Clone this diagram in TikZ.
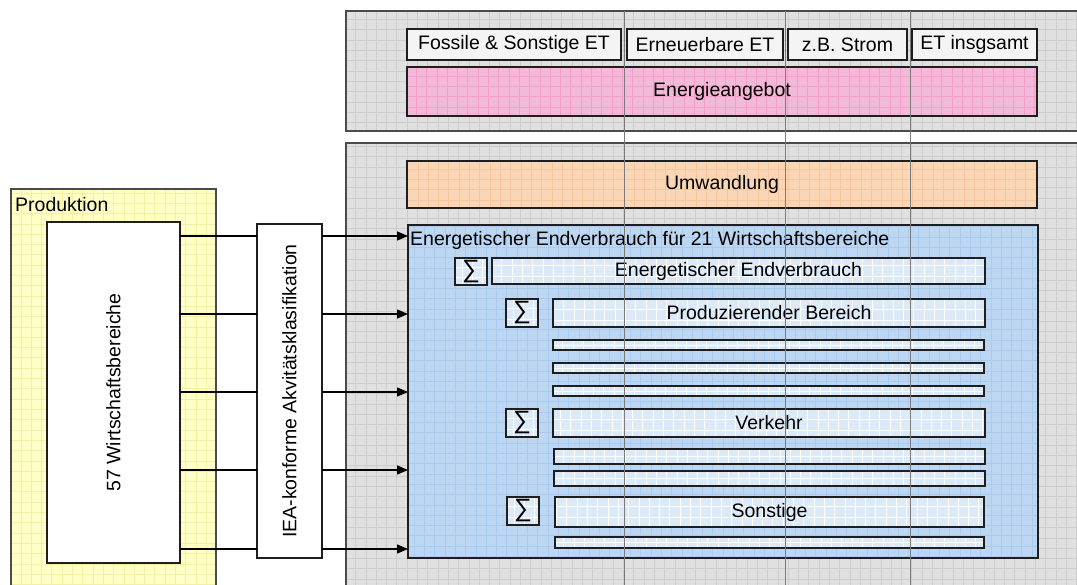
\documentclass[tikz,border=0pt]{standalone}
\usepackage{fontspec}
\setmainfont{Liberation Sans}
\usetikzlibrary{arrows.meta}
\definecolor{panelfill}{HTML}{E0E0E0}
\definecolor{panelgrid}{HTML}{CDCDCD}
\definecolor{pinkfill}{HTML}{F3B9D8}
\definecolor{pinkgrid}{HTML}{F49FC9}
\definecolor{orangefill}{HTML}{F8D6B6}
\definecolor{orangegrid}{HTML}{F6C79E}
\definecolor{bluefill}{HTML}{BDD7F2}
\definecolor{bluegrid}{HTML}{A9CBF0}
\definecolor{barfill}{HTML}{DCEAF8}
\definecolor{yellowfill}{HTML}{FFFFC6}
\definecolor{yellowgrid}{HTML}{F3F0A4}
\definecolor{headfill}{HTML}{F4F4F4}
\definecolor{sepline}{HTML}{7A7A7A}
\definecolor{edge}{HTML}{1E1E1E}
\begin{document}
\begin{tikzpicture}[x=1pt,y=-1pt,
  txt/.style={font=\fontsize{19.5}{23}\selectfont, text=black, inner sep=0pt},
  box/.style={draw=edge, line width=1.3pt, inner sep=0pt, outer sep=0pt, anchor=north west,
    font=\fontsize{19.5}{23}\selectfont},
  gridfill/.style 2 args={fill=#1, path picture={\draw[#2, line width=0.6pt]
    (path picture bounding box.south west) grid[step=10.3pt] (path picture bounding box.north east);}},
  panel/.style={box, draw=edge!80, gridfill={panelfill}{panelgrid}},
  bar/.style={box, gridfill={barfill}{white}},
  sumbox/.style={box, gridfill={barfill}{white}, minimum width=32pt, minimum height=27pt,
    font=\fontsize{25}{28}\selectfont},
  thin/.style={bar, minimum width=431pt, minimum height=11pt},
  conn/.style={draw=black, line width=1.3pt},
  arr/.style={conn, -{Triangle[length=11pt,width=9pt]}},
  sep/.style={draw=sepline, line width=1pt}
]
\useasboundingbox (0,0) rectangle (1077,585);
\clip (0,0) rectangle (1077,585);
\fill[white] (0,0) rectangle (1077,585);

% panels
\node[panel, minimum width=740pt, minimum height=120pt] (toppanel) at (346,11) {};
\node[panel, minimum width=740pt, minimum height=460pt] (botpanel) at (346,143) {};

% header boxes
\node[box, fill=headfill, minimum width=214pt, minimum height=31pt] (h1) at (407,29) {Fossile \& Sonstige ET};
\node[box, fill=headfill, minimum width=156pt, minimum height=31pt] (h2) at (627,29) {Erneuerbare ET};
\node[box, fill=headfill, minimum width=119pt, minimum height=31pt] (h3) at (788,29) {z.B. Strom};
\node[box, fill=headfill, minimum width=125pt, minimum height=31pt] (h4) at (912,29) {ET insgsamt};

\node[box, gridfill={pinkfill}{pinkgrid}, minimum width=630pt, minimum height=49pt] (angebot) at (407,67) {Energieangebot};
\node[box, gridfill={orangefill}{orangegrid}, minimum width=630pt, minimum height=47pt] (umw) at (407,161) {Umwandlung};

% production side
\node[box, draw=edge!80, gridfill={yellowfill}{yellowgrid}, minimum width=205pt, minimum height=420pt] (prod) at (11,189) {};
\node[txt, anchor=north west] (prodlbl) at (15,197) {Produktion};
\node[box, fill=white, minimum width=133pt, minimum height=341pt] (wb) at (47,222) {};
\node[txt, rotate=90] (wblbl) at (wb.center) {57 Wirtschaftsbereiche};
\node[box, fill=white, minimum width=65pt, minimum height=334pt] (iea) at (257,224) {};
\node[txt, rotate=90] (iealbl) at (iea.center) {IEA-konforme Akvitätsklasifikation};

% final energy consumption
\node[box, gridfill={bluefill}{bluegrid}, minimum width=630pt, minimum height=333pt] (blue) at (408,225) {};
\node[txt, anchor=north west] (bluelbl) at (410,231) {Energetischer Endverbrauch für 21 Wirtschaftsbereiche};

\node[sumbox] (s1) at (455,258) {∑};
\node[bar, minimum width=493pt, minimum height=26pt] (b1) at (492,258) {Energetischer Endverbrauch};
\node[sumbox, minimum height=28pt] (s2) at (506,299) {∑};
\node[bar, minimum width=432pt, minimum height=28pt] (b2) at (553,299) {Produzierender Bereich};
\node[thin, minimum height=10pt] (t1) at (553,340) {};
\node[thin, minimum height=10pt] (t2) at (553,363) {};
\node[thin, minimum height=10pt] (t3) at (553,386) {};
\node[sumbox, minimum height=28pt] (s3) at (506,409) {∑};
\node[bar, minimum width=432pt, minimum height=28pt] (b3) at (553,409) {Verkehr};
\node[thin, minimum height=15pt] (t4) at (554,449) {};
\node[thin, minimum height=15pt] (t5) at (554,471) {};
\node[sumbox, minimum height=28pt] (s4) at (507,497) {∑};
\node[bar, minimum width=429pt, minimum height=30pt] (b4) at (555,497) {Sonstige};
\node[thin, minimum width=429pt, minimum height=11pt] (t6) at (555,537) {};

% connectors
\foreach \i/\yy in {1/236,2/314,3/392,4/470,5/549}{
  \coordinate (y\i) at (0,\yy);
  \draw[conn] (wb.east |- y\i) -- (iea.west |- y\i);
  \draw[arr] (iea.east |- y\i) -- (blue.west |- y\i);
}

% column separators
\foreach \xx in {624,785.5,910.5}{
  \draw[sep] (\xx,11) -- (\xx,585);
}
\end{tikzpicture}
\end{document}
